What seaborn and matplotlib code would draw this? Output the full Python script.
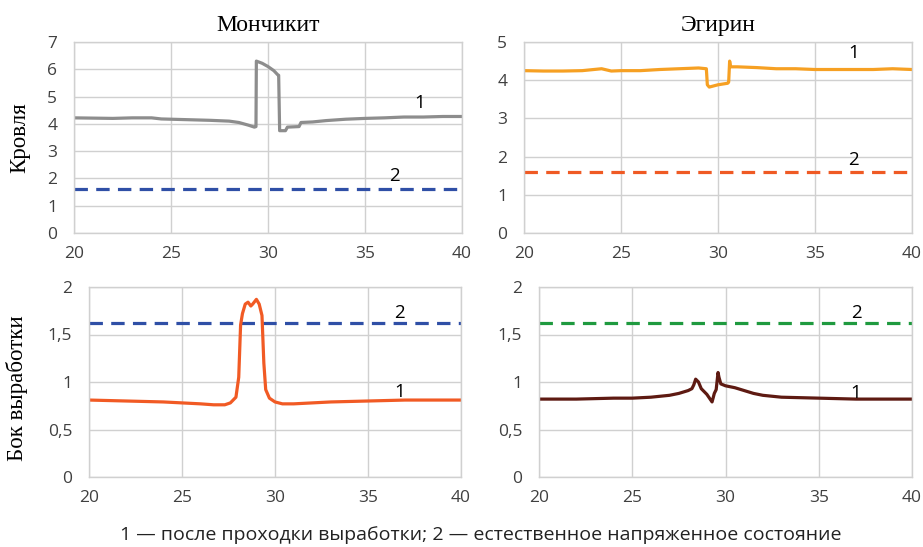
import matplotlib
matplotlib.use("Agg")
import matplotlib.pyplot as plt
import seaborn as sns
import pandas as pd
import numpy as np
from matplotlib.ticker import FuncFormatter

# ---------------- data ----------------
xlim = (20, 40)
x_ticks = [20, 25, 30, 35, 40]

# Мончикит, Кровля
mon_roof_x = [20, 21, 22, 23, 24, 24.5, 25, 26, 27, 28, 28.5, 29, 29.3, 29.38, 29.4, 29.7, 30.0, 30.3, 30.5,
              30.55, 30.6, 30.9, 31.0, 31.6, 31.7, 32.3, 33, 34, 35, 36, 37, 38, 39, 40]
mon_roof_y = [4.22, 4.21, 4.2, 4.22, 4.22, 4.18, 4.17, 4.15, 4.13, 4.1, 4.05, 3.95, 3.88, 3.9, 6.3, 6.22, 6.1,
              5.95, 5.8, 5.78, 3.75, 3.75, 3.88, 3.9, 4.05, 4.07, 4.12, 4.17, 4.2, 4.22, 4.25, 4.25, 4.27, 4.27]
# Эгирин, Кровля
aeg_roof_x = [20, 21, 22, 23, 24, 24.5, 25, 26, 27, 28, 29, 29.4, 29.45, 29.55, 30, 30.5, 30.55, 30.6, 30.65,
              31, 32, 33, 34, 35, 36, 37, 38, 39, 40]
aeg_roof_y = [4.25, 4.24, 4.24, 4.25, 4.3, 4.24, 4.25, 4.25, 4.28, 4.3, 4.32, 4.3, 3.88, 3.82, 3.88, 3.92,
              3.95, 4.5, 4.35, 4.35, 4.33, 4.3, 4.3, 4.28, 4.28, 4.28, 4.28, 4.3, 4.28]
# Мончикит, Бок выработки
mon_side_x = [20, 22, 24, 25, 26, 26.7, 27.3, 27.6, 27.9, 28.05, 28.15, 28.25, 28.4, 28.55, 28.7, 28.8, 29.0,
              29.15, 29.3, 29.4, 29.5, 29.7, 30.0, 30.4, 31, 33, 35, 37, 40]
mon_side_y = [0.81, 0.8, 0.79, 0.78, 0.77, 0.76, 0.76, 0.78, 0.84, 1.05, 1.6, 1.72, 1.82, 1.84, 1.8, 1.82,
              1.87, 1.82, 1.7, 1.2, 0.92, 0.83, 0.79, 0.77, 0.77, 0.79, 0.8, 0.81, 0.81]
# Эгирин, Бок выработки
aeg_side_x = [20, 22, 24, 25, 26, 27, 27.5, 28, 28.2, 28.3, 28.4, 28.55, 28.7, 29.0, 29.28, 29.4, 29.5, 29.6,
              29.65, 29.75, 30.0, 30.5, 31, 31.5, 32, 33, 35, 37, 40]
aeg_side_y = [0.82, 0.82, 0.83, 0.83, 0.84, 0.86, 0.88, 0.91, 0.93, 0.97, 1.03, 1.0, 0.93, 0.87, 0.79, 0.88,
              0.92, 1.1, 1.05, 0.98, 0.96, 0.94, 0.91, 0.88, 0.86, 0.84, 0.83, 0.82, 0.82]

natural_x = [20, 40]
natural_roof = [1.6, 1.6]
natural_side = [1.62, 1.62]

titles = ["Мончикит", "Эгирин"]
row_labels = ["Кровля", "Бок выработки"]
caption = "1 \u2014 после проходки выработки; 2 \u2014 естественное напряженное состояние"

# ---------------- style ----------------
sns.set_theme(style="whitegrid")
plt.rcParams["font.family"] = ["Open Sans", "DejaVu Sans"]
grid_c = "#d0d0d0"
tick_c = "#404040"
serif = ["Liberation Serif", "DejaVu Serif"]

fig = plt.figure(figsize=(9.23, 5.47), dpi=100)
W, H = 923, 547


def make_ax(l, r, t, b):
    return fig.add_axes([l / W, (H - b) / H, (r - l) / W, (b - t) / H])


ax_tl = make_ax(74, 462, 42, 233)
ax_tr = make_ax(524, 912, 42, 233)
ax_bl = make_ax(89, 461, 287, 477)
ax_br = make_ax(539, 912, 287, 477)

dash = (0, (4.2, 2.6))
panels = [
    (ax_tl, mon_roof_x, mon_roof_y, "#8d8d8d", natural_roof, "#2f4fa6", (0, 7), [0, 1, 2, 3, 4, 5, 6, 7],
     (37.8, 4.75), (36.5, 2.1)),
    (ax_tr, aeg_roof_x, aeg_roof_y, "#f6a023", natural_roof, "#ef5a24", (0, 5), [0, 1, 2, 3, 4, 5],
     (37.0, 4.7), (37.0, 1.9)),
    (ax_bl, mon_side_x, mon_side_y, "#f15a24", natural_side, "#2f4fa6", (0, 2), [0, 0.5, 1, 1.5, 2],
     (36.7, 0.89), (36.7, 1.73)),
    (ax_br, aeg_side_x, aeg_side_y, "#5e1a12", natural_side, "#1f9a3f", (0, 2), [0, 0.5, 1, 1.5, 2],
     (37.0, 0.88), (37.0, 1.73)),
]

fmt = FuncFormatter(lambda v, p: (f"{v:g}").replace(".", ","))

for ax, xs, ys, c1, nat, c2, ylim, yt, p1, p2 in panels:
    df1 = pd.DataFrame({"x": xs, "y": ys})
    df2 = pd.DataFrame({"x": natural_x, "y": nat})
    sns.lineplot(data=df2, x="x", y="y", ax=ax, color=c2, linewidth=2.3, linestyle=dash, sort=False)
    sns.lineplot(data=df1, x="x", y="y", ax=ax, color=c1, linewidth=2.3, sort=False)
    ax.set_xlim(*xlim)
    ax.set_ylim(*ylim)
    ax.set_xticks(x_ticks)
    ax.set_yticks(yt)
    ax.yaxis.set_major_formatter(fmt)
    ax.set_xlabel("")
    ax.set_ylabel("")
    ax.grid(True, color=grid_c, linewidth=1.0)
    for s in ax.spines.values():
        s.set_color(grid_c)
        s.set_linewidth(1.0)
    ax.tick_params(axis="both", length=0, labelsize=12.5, labelcolor=tick_c)
    ax.tick_params(axis="y", pad=12)
    ax.tick_params(axis="x", pad=9)
    ax.text(p1[0], p1[1], "1", fontsize=13.5, color="black", ha="center", va="center")
    ax.text(p2[0], p2[1], "2", fontsize=13.5, color="black", ha="center", va="center")

ax_tl.set_title(titles[0], family=serif, fontsize=17, pad=8, color="black")
ax_tr.set_title(titles[1], family=serif, fontsize=17, pad=8, color="black")

ax_tl.set_ylabel(row_labels[0], family=serif, fontsize=16.5, color="black")
ax_tl.yaxis.set_label_coords(-0.112, 0.5)
ax_bl.set_ylabel(row_labels[1], family=serif, fontsize=16.5, color="black")
ax_bl.yaxis.set_label_coords(-0.165, 0.47)

fig.text(481 / W, (H - 535) / H, caption, ha="center", va="center", fontsize=14, color="#222222")

fig.savefig("out.png", dpi=100)
